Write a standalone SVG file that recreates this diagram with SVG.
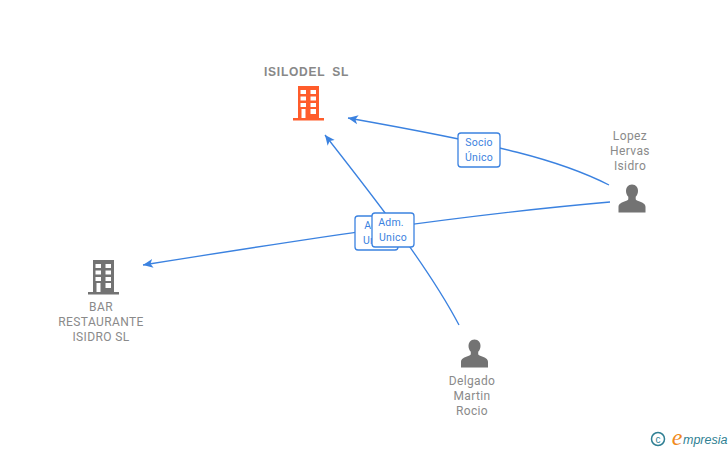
<svg xmlns="http://www.w3.org/2000/svg" width="728" height="450" viewBox="0 0 728 450">
<style>
.l{font-family:Roboto,"Liberation Sans",sans-serif;font-size:12px;fill:#8a8a8a;text-anchor:middle;letter-spacing:.38px}
.t{font-family:"Liberation Sans",Arial,sans-serif;font-size:12px;font-weight:bold;fill:#888;text-anchor:middle;letter-spacing:.75px;word-spacing:3px}
.c{fill:none;stroke:#3b82e0;stroke-width:1.3}
.b{fill:#fff;stroke:#3b82e0;stroke-width:1.3}
.e{font-family:Roboto,"Liberation Sans",sans-serif;font-size:10.500px;fill:#3b82e0;text-anchor:middle;letter-spacing:.25px}
.p{fill:#737373}
</style>
<defs>
<marker id="a" markerWidth="12" markerHeight="10" refX="10" refY="5" orient="auto" markerUnits="userSpaceOnUse"><path d="M10 5L0 0.500L2.500 5L0 9.500Z" fill="#3b82e0"/></marker>
<path id="person" d="M0 -14.500C-4 -14.500 -6 -11.500 -6 -8C-6 -5.500 -5 -3.500 -3.700 -2.200V0C-3.700 1 -5 1.500 -7 2.300C-10.500 3.600 -13.500 4.800 -13.500 8V13.500H13.500V8C13.500 4.800 10.500 3.600 7 2.300C5 1.500 3.700 1 3.700 0V-2.200C5 -3.500 6 -5.500 6 -8C6 -11.500 4 -14.500 0 -14.500Z"/>
<path id="bld" fill-rule="evenodd" d="M-10.500 -17H10.500V15H15.500V17.500H-15.500V15H-10.500ZM-8 -13V-9H-2.500V-13ZM2 -13V-9H7.500V-13ZM-8 -6.500V-2.500H-2.500V-6.500ZM2 -6.500V-2.500H7.500V-6.500ZM-8 0V4H-2.500V0ZM2 0V4H7.500V0ZM-7 6V15H-3V6ZM2 6V11H7.500V6Z"/>
</defs>
<g id="connectors">
<path class="c" marker-end="url(#a)" d="M609 185C560 160 500 145 348 118"/>
<path class="c" marker-end="url(#a)" d="M610 202C450 216 300 240 143 265"/>
<path class="c" marker-end="url(#a)" d="M459 325C430 270 380 205 325 135"/>
</g>
<g id="edge-label-admin-back"><rect class="b" x="355" y="216" width="43" height="34" rx="3"/><text class="e" x="377" y="229">Adm.</text><text class="e" x="377" y="244">Unico</text></g>
<g id="edge-label-admin"><rect class="b" x="372" y="213" width="42" height="34" rx="3"/><text class="e" x="391" y="226">Adm.</text><text class="e" x="393" y="241">Unico</text></g>
<g id="edge-label-socio"><rect class="b" x="458" y="133" width="42" height="34" rx="3"/><text class="e" x="479" y="146">Socio</text><text class="e" x="479" y="161">Único</text></g>
<g id="node-isilodel"><text class="t" x="306.500" y="76">ISILODEL  SL</text><use href="#bld" x="308.500" y="103" fill="#ff5c2b"/></g>
<g id="node-bar"><use href="#bld" x="103.500" y="277" fill="#737373"/><text class="l" x="101" y="311">BAR</text><text class="l" x="101" y="326">RESTAURANTE</text><text class="l" x="101" y="341">ISIDRO SL</text></g>
<g id="node-lopez"><text class="l" x="630" y="140">Lopez</text><text class="l" x="630" y="155">Hervas</text><text class="l" x="630" y="170">Isidro</text><use href="#person" class="p" x="632" y="199"/></g>
<g id="node-delgado"><use href="#person" class="p" x="474.500" y="354"/><text class="l" x="472" y="385">Delgado</text><text class="l" x="472" y="400">Martin</text><text class="l" x="472" y="415">Rocio</text></g>
<g id="logo"><circle cx="658" cy="439" r="6.500" fill="none" stroke="#2f7f93" stroke-width="1.500"/><text x="658" y="442.500" font-family="'Liberation Sans',sans-serif" font-size="10" fill="#2f7f93" text-anchor="middle">c</text><text x="677" y="445" font-family="'Liberation Serif',serif" font-style="italic" font-size="24" fill="#f08a1d" text-anchor="middle">e</text><text x="683" y="444" font-family="'Liberation Sans',sans-serif" font-style="italic" font-size="12.500" fill="#2f7f93">mpresia</text></g>
</svg>
